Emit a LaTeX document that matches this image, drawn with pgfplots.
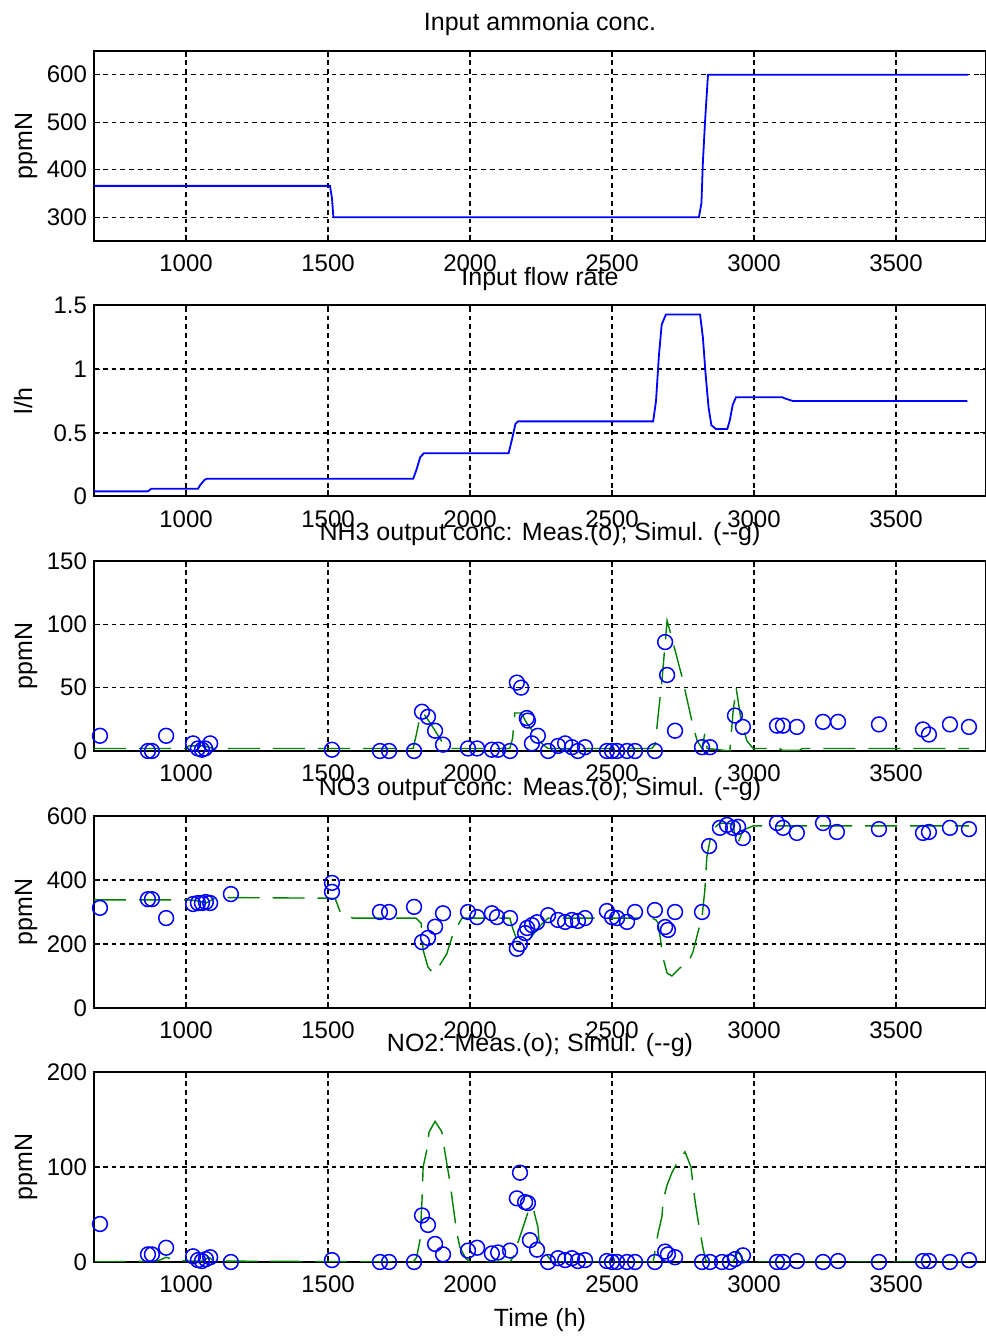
\documentclass[border=0pt]{standalone}
\usepackage{fontspec}
\setmainfont{Liberation Sans}
\usepackage{pgfplots}
\pgfplotsset{compat=1.18}
\definecolor{mblue}{RGB}{0,0,255}
\definecolor{mgreen}{RGB}{0,128,0}
\newcommand\fsz{\fontsize{12}{14}\selectfont}
\newcommand\tsz{\fontsize{12.5}{15}\selectfont}

\pgfplotsset{
  panel/.style={
    scale only axis,
    width=446pt,
    xmin=676, xmax=3817,
    xtick={1000,1500,2000,2500,3000,3500},
    grid=major,
    major grid style={black, line width=0.7pt, dash pattern=on 2.4pt off 2pt},
    axis line style={black, line width=1pt},
    tick style={black, line width=0.6pt},
    major tick length=3pt,
    tick align=inside,
    /pgf/number format/assume math mode=true,
    /pgf/number format/1000 sep={},
    tick label style={font=\fsz},
    xticklabel style={anchor=base, yshift=-15.5pt},
    label style={font=\tsz},
    ylabel style={at={(axis description cs:-0.0695,0.5)}, anchor=base},
    title style={font=\tsz, at={(0.5,1)}, anchor=base, yshift=4pt},
  },
  inflow/.style={mblue, line width=0.9pt, no markers},
  meas/.style={mblue, only marks, mark=o, mark size=3.7pt, mark options={line width=0.75pt}},
  simul/.style={mgreen, line width=0.7pt, no markers, dash pattern=on 16pt off 6.5pt},
}

\begin{document}
\begin{tikzpicture}

% ---------- input ammonia concentration ----------
\begin{axis}[panel, at={(47pt,548.5pt)}, anchor=south west, height=95pt,
  ymin=250, ymax=650, ytick={300,400,500,600},
  title={Input ammonia conc.}, ylabel={ppmN}]
\addplot[inflow] coordinates {
(676,366) (1507,366) (1514,340) (1519,300) (2806,300) (2815,330) (2820,415)
(2828,505) (2838,600) (3754,600)};
\end{axis}

% ---------- input flow rate ----------
\begin{axis}[panel, at={(47pt,420.75pt)}, anchor=south west, height=95.5pt,
  ymin=0, ymax=1.5, ytick={0,0.5,1,1.5},
  title={Input flow rate}, ylabel={l/h}]
\addplot[inflow] coordinates {
(676,0.04) (866,0.04) (877,0.06) (1042,0.06) (1050,0.09) (1065,0.13) (1074,0.14)
(1800,0.14) (1810,0.20) (1825,0.31) (1838,0.34) (2136,0.34) (2148,0.45) (2160,0.57)
(2169,0.59) (2645,0.59) (2655,0.75) (2665,1.10) (2675,1.35) (2690,1.43) (2810,1.43)
(2820,1.25) (2830,0.95) (2840,0.70) (2850,0.56) (2866,0.53) (2906,0.53) (2915,0.60)
(2925,0.72) (2937,0.78) (3099,0.78) (3109,0.77) (3137,0.75) (3751,0.75)};
\end{axis}

% ---------- NH3 output ----------
\begin{axis}[panel, at={(47pt,293.5pt)}, anchor=south west, height=95pt,
  ymin=0, ymax=150, ytick={0,50,100,150},
  title={NH3 output conc: Meas.(o); Simul. (-{}-g)}, ylabel={ppmN}]
\addplot[simul] coordinates {
(676,2) (1000,2) (1010,4) (1060,4) (1100,2) (1800,2) (1812,14) (1825,28) (1835,30)
(1860,22) (1905,6) (1920,2) (2140,2) (2150,10) (2158,30) (2180,30) (2200,22)
(2246,8) (2257,5) (2275,2) (2640,2) (2652,5) (2662,27) (2676,56) (2694,103)
(2711,89) (2746,59) (2785,20) (2800,8) (2817,2) (2827,14) (2835,2) (2915,0)
(2926,30) (2937,50) (2954,25) (2975,8) (2997,2) (3090,2) (3100,0.5) (3160,0.5)
(3170,2) (3757,2)};
\addplot[meas] coordinates {
(697,12) (866,0) (880,0) (930,12) (1025,6) (1042,2) (1056,1) (1067,2) (1085,6)
(1158,-1) (1514,1) (1683,0) (1715,0) (1803,0) (1831,31) (1852,27) (1877,16)
(1905,5) (1993,2) (2025,2) (2077,1) (2099,1) (2141,0) (2165,54) (2180,50)
(2200,26) (2204,24) (2218,6) (2239,12) (2275,0) (2310,4) (2335,6) (2359,3)
(2380,0) (2405,3) (2482,0) (2500,0) (2518,0) (2553,0) (2581,0) (2651,0)
(2687,86) (2694,60) (2722,16) (2817,3) (2845,3) (2887,-1) (2915,-1) (2933,28)
(2961,19) (3081,20) (3102,20) (3151,19) (3243,23) (3296,23) (3440,21) (3595,17)
(3616,13) (3690,21) (3757,19)};
\end{axis}

% ---------- NO3 output ----------
\begin{axis}[panel, at={(47pt,165pt)}, anchor=south west, height=96pt,
  ymin=0, ymax=600, ytick={0,200,400,600},
  title={NO3 output conc: Meas.(o); Simul. (-{}-g)}, ylabel={ppmN}]
\addplot[simul] coordinates {
(676,338) (1000,338) (1040,335) (1070,328) (1100,342) (1150,345) (1525,343)
(1545,295) (1588,281) (1810,281) (1828,265) (1835,181) (1852,128) (1870,109)
(1887,125) (1918,169) (1941,234) (1972,281) (2140,281) (2150,250) (2165,213)
(2185,205) (2210,215) (2235,245) (2257,266) (2275,281) (2640,281) (2655,275)
(2662,266) (2670,220) (2680,156) (2694,109) (2711,100) (2739,125) (2768,141)
(2785,175) (2803,238) (2817,284) (2827,369) (2834,472) (2852,556) (2880,578)
(2926,575) (2933,540) (2940,509) (2950,530) (2961,556) (2997,569) (3757,569)};
\addplot[meas] coordinates {
(697,313) (866,340) (880,340) (930,281) (1025,325) (1042,328) (1056,328)
(1070,331) (1085,328) (1158,356) (1514,391) (1514,363) (1683,300) (1715,300)
(1803,316) (1831,206) (1852,219) (1877,254) (1905,296) (1993,300) (2025,284)
(2077,296) (2095,284) (2141,281) (2165,185) (2176,200) (2194,234) (2201,250)
(2218,259) (2236,268) (2275,290) (2310,275) (2335,269) (2359,275) (2380,272)
(2405,281) (2482,303) (2500,284) (2518,281) (2553,269) (2581,300) (2651,306)
(2687,253) (2697,244) (2722,300) (2817,300) (2842,506) (2880,563) (2905,572)
(2926,563) (2944,566) (2961,531) (3081,578) (3102,563) (3151,547) (3243,578)
(3292,550) (3440,559) (3595,547) (3616,550) (3690,563) (3757,559)};
\end{axis}

% ---------- NO2 ----------
\begin{axis}[panel, at={(47pt,38pt)}, anchor=south west, height=95pt,
  ymin=0, ymax=200, ytick={0,100,200},
  title={NO2: Meas.(o); Simul. (-{}-g)}, ylabel={ppmN},
  xlabel={Time (h)},
  xlabel style={at={(axis description cs:0.5,0)}, anchor=base, yshift=-32.5pt}]
\addplot[simul] coordinates {
(676,0) (900,1) (930,5) (960,2) (1000,1) (1060,1) (1080,5) (1100,1) (1800,0)
(1812,5) (1824,23) (1831,65) (1835,100) (1848,118) (1856,137) (1877,148)
(1901,137) (1912,115) (1930,83) (1941,58) (1954,30) (1965,15) (1985,4) (2000,0)
(2140,0) (2152,5) (2176,27) (2194,43) (2210,58) (2222,57) (2239,37) (2243,23)
(2271,7) (2290,0) (2645,0) (2662,30) (2676,48) (2680,65) (2694,81) (2711,94)
(2729,104) (2757,116) (2778,100) (2792,65) (2803,44) (2820,15) (2830,2) (2840,0)
(2925,0) (2935,5) (2945,12) (2958,3) (2970,0) (3757,0)};
\addplot[meas] coordinates {
(697,40) (866,8) (880,8) (930,15) (1025,6) (1042,2) (1056,1) (1070,3) (1085,5)
(1158,0) (1514,2) (1683,0) (1715,0) (1803,0) (1831,49) (1852,39) (1877,19)
(1905,8) (1993,12) (2025,15) (2077,9) (2099,10) (2141,12) (2165,67) (2176,94)
(2194,63) (2204,62) (2211,23) (2236,13) (2275,0) (2310,4) (2335,2) (2359,4)
(2380,1) (2405,2) (2482,1) (2500,0) (2518,0) (2553,0) (2581,0) (2651,0)
(2687,11) (2697,8) (2722,5) (2817,0) (2845,0) (2887,0) (2915,0) (2933,3)
(2961,7) (3081,0) (3102,0) (3151,1) (3243,0) (3296,1) (3440,0) (3595,1)
(3616,1) (3690,0) (3757,2)};
\end{axis}

\pgfresetboundingbox
\useasboundingbox (0,0) rectangle (492.5pt,669pt);
\end{tikzpicture}
\end{document}
